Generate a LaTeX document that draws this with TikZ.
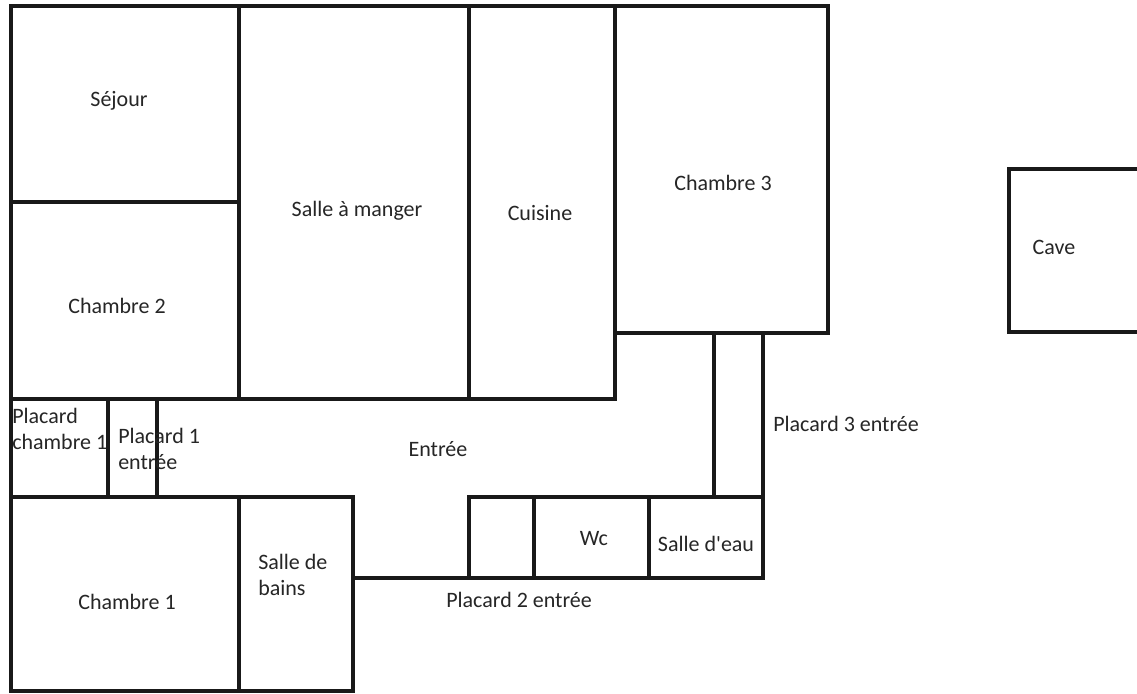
\documentclass[tikz,border=0pt]{standalone}
\usepackage{fontspec}
\setmainfont{Carlito}[Ligatures=TeXOff]
\begin{document}
\begin{tikzpicture}[x=0.75pt,y=-0.75pt,
  wall/.style={line width=2.3pt,line join=miter,line cap=rect,black!90},
  lbl/.style={font=\fontsize{16.5}{20}\selectfont,text=black!85,inner sep=0pt},
  lbll/.style={lbl,align=left,anchor=west}]
\useasboundingbox[fill=white] (0,0) rectangle (1137,693);
% outer walls and partitions
\draw[wall] (11,6) -- (828,6) -- (828,333) -- (615,333) -- (615,399) -- (11,399);
\draw[wall] (11,6) -- (11,691) -- (353,691) -- (353,497) -- (11,497);
\draw[wall] (11,202) -- (239,202);
\draw[wall] (239,6) -- (239,399);
\draw[wall] (239,497) -- (239,691);
\draw[wall] (469,6) -- (469,399);
\draw[wall] (615,6) -- (615,333);
\draw[wall] (108,399) -- (108,497);
\draw[wall] (157,399) -- (157,497);
\draw[wall] (714,333) -- (714,497);
\draw[wall] (763,333) -- (763,578) -- (353,578);
\draw[wall] (469,578) -- (469,497) -- (763,497);
\draw[wall] (534,497) -- (534,578);
\draw[wall] (649,497) -- (649,578);
% cave
\draw[wall] (1140,169) -- (1009,169) -- (1009,332) -- (1140,332);
% labels
\node[lbl] (sejour) at (119,101) {Séjour};
\node[lbl] (ch2) at (117,306) {Chambre 2};
\node[lbl] (sam) at (357,211) {Salle à manger};
\node[lbl] (cuis) at (540,213) {Cuisine};
\node[lbl] (ch3) at (723,183) {Chambre 3};
\node[lbl] (cave) at (1054,247) {Cave};
\node[lbll] (pc1) at (12,429) {Placard\\chambre 1};
\node[lbll] (p1e) at (118,449) {Placard 1\\entrée};
\node[lbl] (entree) at (438,449) {Entrée};
\node[lbll] (p3e) at (773,424) {Placard 3 entrée};
\node[lbll] (sdb) at (258,575) {Salle de\\bains};
\node[lbl] (wc) at (594,539) {Wc};
\node[lbl] (sde) at (706,544) {Salle d'eau};
\node[lbl] (ch1) at (127,602) {Chambre 1};
\node[lbll] (p2e) at (446,600) {Placard 2 entrée};
\end{tikzpicture}
\end{document}
